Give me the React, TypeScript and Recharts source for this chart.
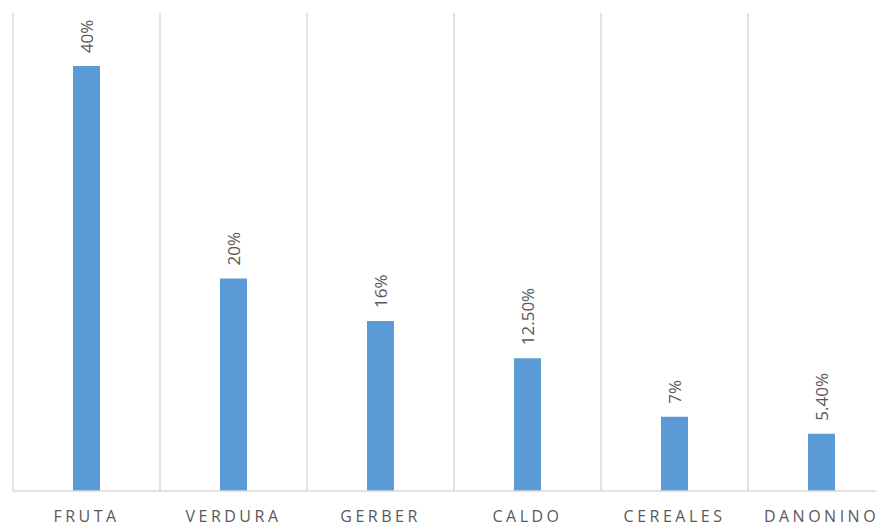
import React from 'react';
import { BarChart, Bar, XAxis, YAxis, CartesianGrid, LabelList } from 'recharts';

const categories = ['FRUTA', 'VERDURA', 'GERBER', 'CALDO', 'CEREALES', 'DANONINO'];
const values = [40, 20, 16, 12.5, 7, 5.4];
const valueLabels = ['40%', '20%', '16%', '12.50%', '7%', '5.40%'];

const data = categories.map((name, i) => ({ name, value: values[i], label: valueLabels[i] }));

const GRID = '#d9d9d9';
const TEXT = '#595959';
const BAR = '#5b9bd5';

const RotatedLabel = (props: any) => {
    const { x, y, width, value } = props;
    const cx = x + width / 2;
    const ty = y - 13;
    return (
        <text
            x={cx}
            y={ty}
            transform={`rotate(-90, ${cx}, ${ty})`}
            textAnchor="start"
            dominantBaseline="central"
            fill={TEXT}
            fontSize={17}
            fontFamily="'Open Sans', sans-serif"
        >
            {value}
        </text>
    );
};

const boundaryLines = ({ offset }: any) => {
    const step = offset.width / categories.length;
    return categories.map((_, i) => offset.left + i * step).concat(offset.left + offset.width);
};

export default function App() {
    return (
        <div style={{ width: 876, height: 519, overflow: 'hidden' }}>
            <BarChart
                width={887}
                height={519}
                data={data}
                margin={{ top: 5, right: 0, bottom: 6, left: 5 }}
                barCategoryGap="40%"
            >
                <CartesianGrid
                    horizontal={false}
                    vertical={true}
                    stroke={GRID}
                    strokeWidth={1.5}
                    verticalCoordinatesGenerator={boundaryLines}
                />
                <XAxis
                    dataKey="name"
                    axisLine={{ stroke: GRID, strokeWidth: 1.5 }}
                    tickLine={false}
                    interval={0}
                    tick={{
                        fill: TEXT,
                        fontSize: 16,
                        fontFamily: "'Open Sans', sans-serif",
                        letterSpacing: 3.5,
                        dy: 12,
                    }}
                />
                <YAxis hide domain={[0, 45]} />
                <Bar dataKey="value" fill={BAR} barSize={27} isAnimationActive={false}>
                    <LabelList dataKey="label" content={RotatedLabel} />
                </Bar>
            </BarChart>
        </div>
    );
}
